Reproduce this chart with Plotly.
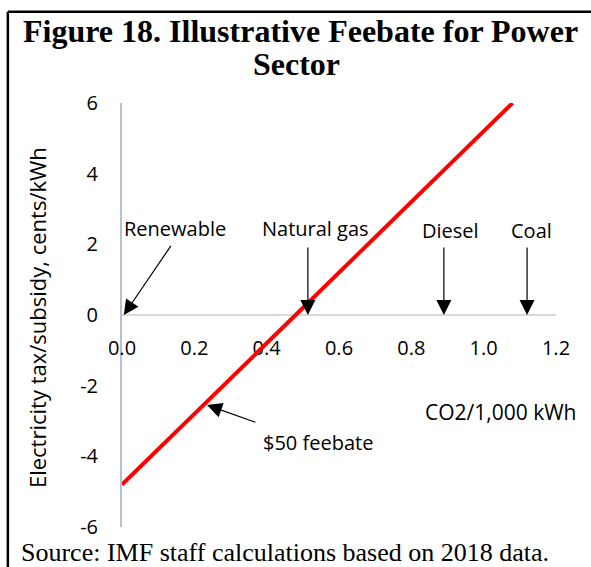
import plotly.graph_objects as go

# feebate line (CO2 per 1,000 kWh vs. tax/subsidy in cents/kWh)
line_x = [0.0, 1.08]
line_y = [-4.8, 6.0]

# fuel markers on the x axis
fuel_names = ["Renewable", "Natural gas", "Diesel", "Coal"]
fuel_x = [0.005, 0.514, 0.89, 1.12]
fuel_label_x = [0.147, 0.534, 0.907, 1.131]
fuel_label_y = [2.45, 2.45, 2.4, 2.4]
fuel_tail_x = [0.138, 0.514, 0.89, 1.12]
fuel_tail_y = [2.0, 1.95, 1.95, 1.95]

x_ticks = [0.0, 0.2, 0.4, 0.6, 0.8, 1.0, 1.2]
y_ticks = [-6, -4, -2, 0, 2, 4, 6]
y_tick_labels = ["-6", "-4", "-2", "0", "2", "4", "6"]

SANS = "Open Sans, sans-serif"
SERIF = "Liberation Serif, Times New Roman, serif"

fig = go.Figure()
fig.add_trace(go.Scatter(
    x=line_x, y=line_y, mode="lines",
    line=dict(color="#FF0000", width=4),
    hoverinfo="skip", showlegend=False,
))

arrow_style = dict(
    showarrow=True, arrowhead=2, arrowsize=2.5, arrowwidth=1.2,
    arrowcolor="black", text="", axref="x", ayref="y",
)

for name, hx, lx, ly, tx, ty in zip(fuel_names, fuel_x, fuel_label_x,
                                    fuel_label_y, fuel_tail_x, fuel_tail_y):
    fig.add_annotation(x=hx, y=0, ax=tx, ay=ty, **arrow_style)
    fig.add_annotation(x=lx, y=ly, text=name, showarrow=False,
                       font=dict(family=SANS, size=20, color="black"))

# $50 feebate pointer
fig.add_annotation(x=0.235, y=-2.55, ax=0.373, ay=-3.05, **arrow_style)
fig.add_annotation(x=0.542, y=-3.6, text="$50 feebate", showarrow=False,
                   font=dict(family=SANS, size=20, color="black"))
fig.add_annotation(x=1.048, y=-2.75, text="CO2/1,000 kWh", showarrow=False,
                   font=dict(family=SANS, size=21, color="black"))

# y axis title
fig.add_annotation(xref="paper", yref="paper", x=-0.196, y=0.495,
                   xanchor="center", yanchor="middle",
                   text="Electricity tax/subsidy, cents/kWh", textangle=-90,
                   showarrow=False, font=dict(family=SANS, size=22, color="black"))

# title and source (box text)
fig.add_annotation(xref="paper", yref="paper", x=0.411, y=1.0, yshift=72,
                   xanchor="center", yanchor="middle",
                   text="<b>Figure 18. Illustrative Feebate for Power</b>",
                   showarrow=False,
                   font=dict(family=SERIF, size=32, color="black"))
fig.add_annotation(xref="paper", yref="paper", x=0.403, y=1.0, yshift=39,
                   xanchor="center", yanchor="middle",
                   text="<b>Sector</b>", showarrow=False,
                   font=dict(family=SERIF, size=32, color="black"))
fig.add_annotation(xref="paper", yref="paper", x=-0.237, y=0.0, yshift=-25,
                   text="Source: IMF staff calculations based on 2018 data.",
                   showarrow=False, xanchor="left", yanchor="middle",
                   font=dict(family=SERIF, size=26, color="black"))

# frame lines (top and left)
fig.add_shape(type="line", xref="paper", yref="paper", x0=-0.263, x1=1.1,
              y0=1.215, y1=1.215, layer="above",
              line=dict(color="black", width=2.5))
fig.add_shape(type="line", xref="paper", yref="paper", x0=-0.263, x1=-0.263,
              y0=1.215, y1=-0.1, layer="above",
              line=dict(color="black", width=2.5))

fig.update_xaxes(
    range=[0, 1.2], tickvals=x_ticks, tickformat=".1f",
    anchor="free", position=0.5, showline=True, linecolor="#D9D9D9",
    linewidth=1.5, showgrid=False, zeroline=False, ticks="",
    ticklabelstandoff=15, layer="below traces",
    tickfont=dict(family=SANS, size=20, color="black"),
)
fig.update_yaxes(
    range=[-6, 6], tickvals=y_ticks, ticktext=y_tick_labels,
    showline=True, linecolor="#B4C0D4",
    linewidth=2, showgrid=False, zeroline=False, ticks="",
    ticklabelstandoff=18, layer="below traces",
    tickfont=dict(family=SANS, size=20, color="black"),
)
fig.update_layout(
    width=591, height=567,
    margin=dict(l=122, r=35, t=103, b=40),
    paper_bgcolor="white", plot_bgcolor="white",
    showlegend=False,
)

# drop the default page margin so the figure sits at the window corner
fig.write_html("out.html", config={"displayModeBar": False},
               post_script="document.body.style.margin='0';")
